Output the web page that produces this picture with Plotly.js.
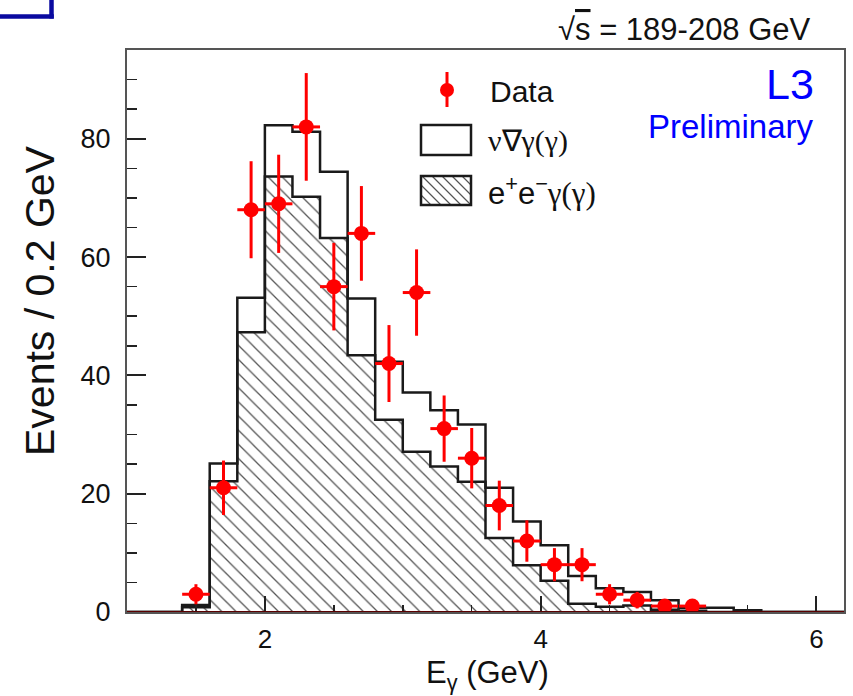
<!DOCTYPE html>
<html><head><meta charset="utf-8">
<script src="https://cdn.plot.ly/plotly-3.0.1.min.js"></script>
<style>html,body{margin:0;padding:0;background:#fff}</style>
</head><body>
<div id="chart" style="width:853px;height:696px"></div>
<script>
// ---- data ----
const binEdges = [1.0,1.2,1.4,1.6,1.8,2.0,2.2,2.4,2.6,2.8,3.0,3.2,3.4,3.6,3.8,4.0,4.2,4.4,4.6,4.8,5.0,5.2,5.4,5.6,5.8,6.0,6.2];
const totalMC = [0,0,1.2,25.1,53.1,82.3,81.2,74.4,53.0,42.3,37.1,34.1,31.7,21.0,15.3,11.3,6.1,4.0,3.4,2.0,0.7,0.7,0.3,0,0,0];
const eegMC   = [0,0,0.8,22.1,47.3,73.6,70.2,63.2,43.4,32.5,27.1,24.6,22.0,12.5,7.9,5.3,1.4,0.9,1.1,0.4,0.2,0,0,0,0,0];
const dataE   = [1.5,1.7,1.9,2.1,2.3,2.5,2.7,2.9,3.1,3.3,3.5,3.7,3.9,4.1,4.3,4.5,4.7,4.9,5.1];
const dataN   = [3,21,68,69,82,55,64,42,54,31,26,18,12,8,8,3,2,1,1];
const dataErr = [1.7,4.6,8.2,8.3,9.1,7.4,8.0,6.5,7.3,5.6,5.1,4.2,3.5,2.8,2.8,1.7,1.4,1.0,1.0];
const xTickVals = [2,4,6];
const yTickVals = [0,20,40,60,80];

// ---- geometry helpers (margins) ----
const W = 853, H = 696, ML = 127, MR = 9, MT = 50, MB = 84;
const PW = W - ML - MR, PH = H - MT - MB;
const px = v => (v - ML) / PW;
const py = v => (H - MB - v) / PH;

const stepY = arr => arr.concat([arr[arr.length - 1]]);

const traces = [
  {
    type: 'scatter', mode: 'lines', x: binEdges, y: stepY(eegMC),
    line: {shape: 'hv', color: '#1a1a1a', width: 2.5},
    fill: 'tozeroy', fillcolor: '#ffffff',
    fillpattern: {shape: '\\', fgcolor: '#555555', bgcolor: '#ffffff', size: 10, solidity: 0.13},
    hoverinfo: 'skip', showlegend: false
  },
  {
    type: 'scatter', mode: 'lines', x: binEdges, y: stepY(totalMC),
    line: {shape: 'hv', color: '#1a1a1a', width: 2.5},
    hoverinfo: 'skip', showlegend: false
  },
  {
    type: 'scatter', mode: 'markers', x: dataE, y: dataN,
    marker: {color: '#ff0000', size: 15},
    error_y: {type: 'data', array: dataErr, visible: true, color: '#ff0000', thickness: 3, width: 0},
    error_x: {type: 'constant', value: 0.1, visible: true, color: '#ff0000', thickness: 3, width: 0},
    showlegend: false
  }
];

// legend icons
const shapes = [];
shapes.push({type: 'line', xref: 'paper', yref: 'paper', x0: px(447), x1: px(447), y0: py(72), y1: py(107), line: {color: '#ff0000', width: 3}});
shapes.push({type: 'circle', xref: 'paper', yref: 'paper', x0: px(440), x1: px(454), y0: py(83), y1: py(97), fillcolor: '#ff0000', line: {color: '#ff0000', width: 0}});
shapes.push({type: 'rect', xref: 'paper', yref: 'paper', x0: px(421), x1: px(471), y0: py(125), y1: py(155), fillcolor: 'rgba(0,0,0,0)', line: {color: '#1a1a1a', width: 2.5}});
// hatched legend box
(function () {
  const bx0 = 421, bx1 = 471, by0 = 176, by1 = 205, h = by1 - by0;
  let p = '';
  for (let a = bx0 - h; a < bx1; a += 10) {
    let xs = a, ys = by0, xe = a + h, ye = by1;
    if (xs < bx0) { ys = by0 + (bx0 - xs); xs = bx0; }
    if (xe > bx1) { ye = by1 - (xe - bx1); xe = bx1; }
    if (xe - xs < 1) continue;
    p += 'M' + px(xs) + ',' + py(ys) + 'L' + px(xe) + ',' + py(ye);
  }
  shapes.push({type: 'path', xref: 'paper', yref: 'paper', path: p, line: {color: '#555', width: 1.2}});
})();
shapes.push({type: 'rect', xref: 'paper', yref: 'paper', x0: px(421), x1: px(471), y0: py(176), y1: py(205), fillcolor: 'rgba(0,0,0,0)', line: {color: '#1a1a1a', width: 2.5}});
// bottom baseline
shapes.push({type: 'line', xref: 'paper', yref: 'y', x0: 0, x1: 1, y0: 0, y1: 0, line: {color: '#5a0000', width: 2}});
// blue corner box
shapes.push({type: 'line', xref: 'paper', yref: 'paper', x0: px(51.5), x1: px(51.5), y0: py(-2), y1: py(18.5), line: {color: '#0a0aa0', width: 4.5}});
shapes.push({type: 'line', xref: 'paper', yref: 'paper', x0: px(-2), x1: px(53.8), y0: py(16.5), y1: py(16.5), line: {color: '#0a0aa0', width: 4.5}});

const SANS = 'Liberation Sans, Arial, Helvetica, sans-serif';
const SERIF = 'Liberation Serif, Times New Roman, serif';
const annotations = [
  {text: '√<span style="text-decoration:overline">s</span> = 189-208 GeV', x: px(813), y: py(29), xref: 'paper', yref: 'paper', xanchor: 'right', yanchor: 'middle', showarrow: false, font: {family: SANS, size: 31, color: '#111'}},
  {text: 'Data', x: px(488), y: py(91), xref: 'paper', yref: 'paper', xanchor: 'left', yanchor: 'middle', showarrow: false, font: {family: SANS, size: 30, color: '#111'}},
  {text: 'ν∇γ(γ)', x: px(486), y: py(141), xref: 'paper', yref: 'paper', xanchor: 'left', yanchor: 'middle', showarrow: false, font: {family: SERIF, size: 30, color: '#111'}},
  {text: '<span style="font-family:Liberation Sans">e<sup>+</sup>e<sup>−</sup></span>γ(γ)', x: px(486), y: py(191), xref: 'paper', yref: 'paper', xanchor: 'left', yanchor: 'middle', showarrow: false, font: {family: SERIF, size: 31, color: '#111'}},
  {text: 'L3', x: px(816), y: py(84), xref: 'paper', yref: 'paper', xanchor: 'right', yanchor: 'middle', showarrow: false, font: {family: SANS, size: 43, color: '#0000ff'}},
  {text: 'Preliminary', x: px(816), y: py(126), xref: 'paper', yref: 'paper', xanchor: 'right', yanchor: 'middle', showarrow: false, font: {family: SANS, size: 33, color: '#0000ff'}},
  {text: 'Events / 0.2 GeV', x: px(40), y: py(301), xref: 'paper', yref: 'paper', xanchor: 'center', yanchor: 'middle', textangle: -90, showarrow: false, font: {family: SANS, size: 41, color: '#111'}},
  {text: 'E<sub>γ</sub> (GeV)', x: px(487), y: py(675), xref: 'paper', yref: 'paper', xanchor: 'center', yanchor: 'middle', showarrow: false, font: {family: SANS, size: 31, color: '#111'}}
];

const layout = {
  width: W, height: H,
  margin: {l: ML, r: MR, t: MT, b: MB, pad: 0},
  paper_bgcolor: '#ffffff', plot_bgcolor: '#ffffff',
  showlegend: false,
  font: {family: SANS, size: 26, color: '#111'},
  xaxis: {
    range: [1.0, 6.2], tickvals: xTickVals, ticktext: xTickVals.map(String),
    ticks: 'inside', ticklen: 16, tickwidth: 2, tickcolor: '#222',
    minor: {dtick: 0.5, tick0: 0, ticks: 'inside', ticklen: 7, tickwidth: 1.5, tickcolor: '#222'},
    showline: true, linecolor: '#555', linewidth: 2, mirror: true,
    showgrid: false, zeroline: false,
    tickfont: {family: SANS, size: 26, color: '#111'}, ticklabelstandoff: 3
  },
  yaxis: {
    range: [0, 95], tickvals: yTickVals, ticktext: yTickVals.map(String),
    ticks: 'inside', ticklen: 19, tickwidth: 2, tickcolor: '#222',
    minor: {dtick: 5, tick0: 0, ticks: 'inside', ticklen: 10, tickwidth: 1.5, tickcolor: '#222'},
    showline: true, linecolor: '#555', linewidth: 2, mirror: true,
    showgrid: false, zeroline: false,
    tickfont: {family: SANS, size: 27, color: '#111'}, ticklabelstandoff: 9
  },
  shapes: shapes,
  annotations: annotations
};

Plotly.newPlot('chart', traces, layout, {displayModeBar: false, staticPlot: true});
</script>
</body></html>
